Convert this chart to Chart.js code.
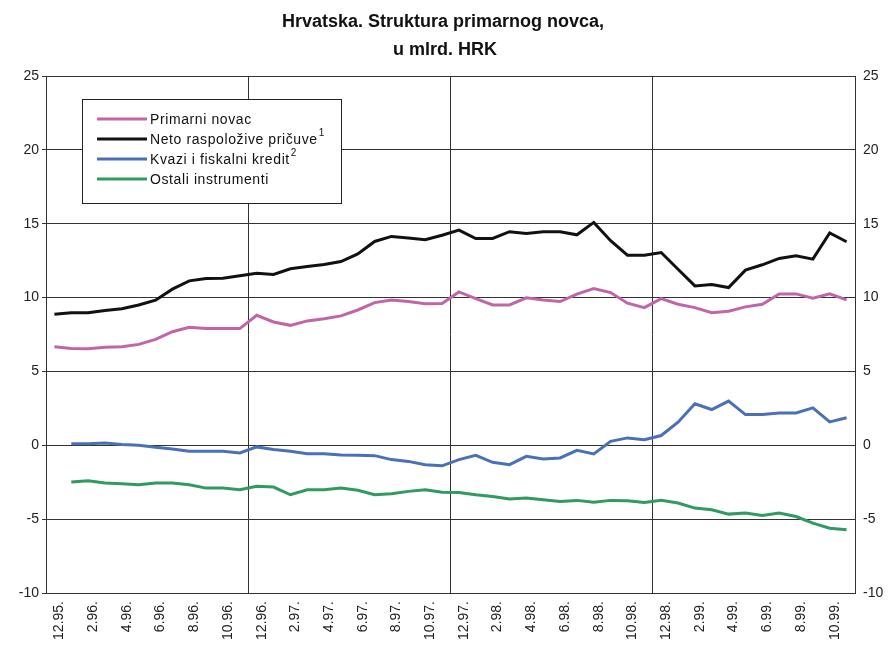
<!DOCTYPE html>
<html lang="hr">
<head>
  <meta charset="UTF-8">
  <title>Hrvatska. Struktura primarnog novca</title>
  <style>
    body {
      margin: 0;
      background: #fff;
    }
    #wrap {
      width: 893px;
      height: 646px;
    }
  </style>
</head>
<body>

<div id="wrap">
  <canvas id="novacChart" width="893" height="646"></canvas>
</div>

<script src="https://cdn.jsdelivr.net/npm/chart.js"></script>
<script>
  // monthly data, 12.95 - 11.99
  const months = [
    '12.95.', '1.96.', '2.96.', '3.96.', '4.96.', '5.96.', '6.96.', '7.96.', '8.96.', '9.96.', '10.96.', '11.96.',
    '12.96.', '1.97.', '2.97.', '3.97.', '4.97.', '5.97.', '6.97.', '7.97.', '8.97.', '9.97.', '10.97.', '11.97.',
    '12.97.', '1.98.', '2.98.', '3.98.', '4.98.', '5.98.', '6.98.', '7.98.', '8.98.', '9.98.', '10.98.', '11.98.',
    '12.98.', '1.99.', '2.99.', '3.99.', '4.99.', '5.99.', '6.99.', '7.99.', '8.99.', '9.99.', '10.99.', '11.99.'
  ];

  const primarniNovac = [
    6.67, 6.56, 6.54, 6.63, 6.67, 6.83, 7.17, 7.69, 7.99, 7.90, 7.90, 7.90,
    8.80, 8.35, 8.12, 8.42, 8.57, 8.76, 9.16, 9.66, 9.84, 9.73, 9.59, 9.60,
    10.38, 9.93, 9.50, 9.50, 9.98, 9.84, 9.73, 10.23, 10.61, 10.34, 9.62, 9.32,
    9.93, 9.55, 9.32, 8.98, 9.07, 9.37, 9.55, 10.25, 10.25, 9.95, 10.25, 9.84
  ];

  const netoPricuve = [
    8.87, 8.98, 8.98, 9.12, 9.25, 9.50, 9.82, 10.57, 11.13, 11.29, 11.31, 11.47,
    11.65, 11.56, 11.95, 12.10, 12.24, 12.44, 12.96, 13.80, 14.14, 14.03, 13.91, 14.22,
    14.57, 14.00, 14.00, 14.46, 14.34, 14.46, 14.46, 14.25, 15.09, 13.85, 12.87, 12.87,
    13.05, 11.92, 10.79, 10.88, 10.68, 11.86, 12.22, 12.65, 12.83, 12.60, 14.37, 13.78
  ];

  const kvaziKredit = [
    null, 0.11, 0.11, 0.16, 0.05, 0.00, -0.14, -0.25, -0.41, -0.41, -0.41, -0.52,
    -0.11, -0.29, -0.41, -0.57, -0.57, -0.66, -0.68, -0.70, -0.97, -1.09, -1.31, -1.39,
    -0.97, -0.68, -1.15, -1.31, -0.75, -0.93, -0.86, -0.34, -0.59, 0.27, 0.50, 0.38,
    0.66, 1.56, 2.81, 2.42, 2.99, 2.08, 2.08, 2.19, 2.19, 2.53, 1.58, 1.86
  ];

  const ostaliInstrumenti = [
    null, -2.49, -2.40, -2.56, -2.60, -2.67, -2.56, -2.56, -2.67, -2.90, -2.90, -3.01,
    -2.78, -2.83, -3.35, -3.01, -3.01, -2.90, -3.05, -3.35, -3.28, -3.12, -3.01, -3.18,
    -3.19, -3.35, -3.46, -3.64, -3.57, -3.69, -3.80, -3.73, -3.85, -3.73, -3.76, -3.87,
    -3.73, -3.91, -4.25, -4.37, -4.66, -4.59, -4.75, -4.59, -4.82, -5.27, -5.61, -5.72
  ];

  const seriesNames = ['Primarni novac', 'Neto raspoložive pričuve', 'Kvazi i fiskalni kredit', 'Ostali instrumenti'];
  const seriesNotes = ['', '1', '2', ''];
  const seriesColors = ['#C066A6', '#111111', '#4A70B8', '#2F9A62'];
  const titleLines = ['Hrvatska. Struktura primarnog novca,', 'u mlrd. HRK'];

  const FONT = "'Liberation Sans', Arial, sans-serif";
  const gridColor = '#333333';

  // title drawn by hand so the plot area stays where it is
  const titlePlugin = {
    id: 'titleText',
    afterDraw(chart) {
      const ctx = chart.ctx;
      ctx.save();
      ctx.fillStyle = '#111';
      ctx.font = 'bold 18px ' + FONT;
      ctx.textAlign = 'center';
      ctx.textBaseline = 'alphabetic';
      ctx.fillText(titleLines[0], 443, 27);
      ctx.fillText(titleLines[1], 445, 55);
      ctx.restore();
    }
  };

  // boxed legend inside the plot, like the original
  const boxLegend = {
    id: 'boxLegend',
    afterDraw(chart) {
      const ctx = chart.ctx;
      ctx.save();
      ctx.fillStyle = '#fff';
      ctx.fillRect(82, 99, 259, 104);
      ctx.strokeStyle = '#222';
      ctx.lineWidth = 1;
      ctx.strokeRect(82.5, 99.5, 259, 104);
      chart.data.datasets.forEach((ds, i) => {
        const y = 119 + i * 20;
        ctx.strokeStyle = ds.borderColor;
        ctx.lineWidth = 3;
        ctx.beginPath();
        ctx.moveTo(97, y);
        ctx.lineTo(147, y);
        ctx.stroke();
        ctx.fillStyle = '#111';
        ctx.font = '14px ' + FONT;
        ctx.textAlign = 'left';
        ctx.textBaseline = 'middle';
        ctx.letterSpacing = '0.6px';
        ctx.fillText(ds.label, 150, y + 1);
        if (seriesNotes[i]) {
          const w = ctx.measureText(ds.label).width;
          ctx.font = '10px ' + FONT;
          ctx.fillText(seriesNotes[i], 150 + w + 1, y - 6);
        }
      });
      ctx.restore();
    }
  };

  const yTicks = {
    color: '#222',
    font: { family: FONT, size: 14 },
    stepSize: 5
  };

  const ctx = document.getElementById('novacChart').getContext('2d');
  const novacChart = new Chart(ctx, {
    type: 'line',
    data: {
      labels: months,
      datasets: [primarniNovac, netoPricuve, kvaziKredit, ostaliInstrumenti].map((vals, i) => ({
        label: seriesNames[i],
        data: vals,
        borderColor: seriesColors[i],
        backgroundColor: seriesColors[i],
        borderWidth: 3,
        pointRadius: 0,
        tension: 0,
        fill: false
      }))
    },
    options: {
      responsive: false,
      animation: false,
      layout: { padding: { top: 76, left: 0, right: 0, bottom: 0 } },
      plugins: {
        legend: { display: false },
        title: { display: false },
        tooltip: { enabled: false }
      },
      scales: {
        x: {
          type: 'category',
          offset: true,
          grid: {
            offset: true,
            drawTicks: false,
            lineWidth: 1,
            color: c => (c.index === 12 || c.index === 24 || c.index === 36) ? gridColor : 'rgba(0,0,0,0)'
          },
          border: { display: true, color: gridColor, width: 1 },
          ticks: {
            autoSkip: false,
            maxRotation: 90,
            minRotation: 90,
            padding: 8,
            labelOffset: 5,
            color: '#222',
            font: { family: FONT, size: 14 },
            callback: function (val, index) {
              return index % 2 === 0 ? this.getLabelForValue(val) : '';
            }
          },
          afterFit: s => { s.height = 53; }
        },
        y: {
          position: 'left',
          min: -10,
          max: 25,
          grid: {
            color: gridColor,
            lineWidth: 1,
            drawTicks: true,
            tickLength: 4
          },
          border: { display: true, color: gridColor, width: 1 },
          ticks: Object.assign({ padding: 3 }, yTicks),
          afterFit: s => { s.width = 46; }
        },
        y2: {
          position: 'right',
          min: -10,
          max: 25,
          grid: { display: false, drawTicks: false },
          border: { display: true, color: gridColor, width: 1 },
          ticks: Object.assign({ padding: 8 }, yTicks),
          afterFit: s => { s.width = 38; }
        }
      }
    },
    plugins: [titlePlugin, boxLegend]
  });
</script>

</body>
</html>
